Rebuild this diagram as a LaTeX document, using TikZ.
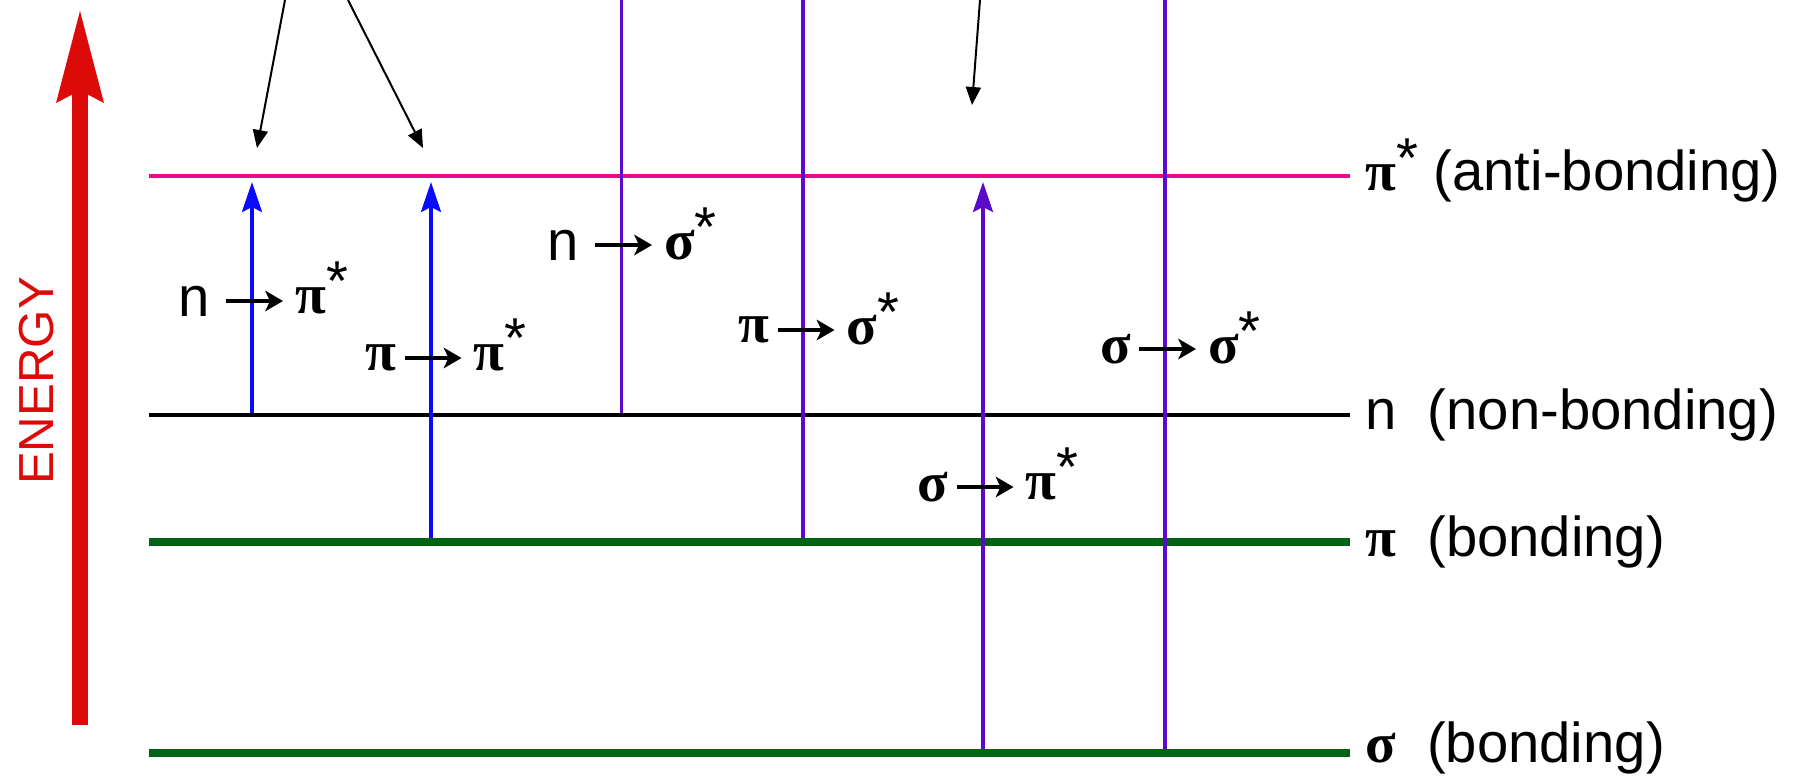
\documentclass[tikz,border=0pt]{standalone}
\usepackage{fontspec}
\setmainfont{Liberation Sans}
\newfontfamily\grkfont{Liberation Serif}
\usepackage{tikz}
\usetikzlibrary{positioning, arrows.meta}
\definecolor{EnergyRed}{HTML}{DD0A0A}
\definecolor{AntiPink}{HTML}{EC0A8C}
\definecolor{BondGreen}{HTML}{006414}
\definecolor{TransBlue}{HTML}{0A0AFF}
\definecolor{TransPurple}{HTML}{5A0AC8}

\begin{document}
\begin{tikzpicture}[
  >=stealth,
  energyarr/.style={-{Stealth[length=1.84cm, width=0.96cm, inset=0.25cm, line width=0pt]},
                    line width=0.32cm, color=EnergyRed},
  antiline/.style={line width=0.08cm, color=AntiPink},
  nonline/.style={line width=0.08cm, color=black},
  bondline/.style={line width=0.16cm, color=BondGreen},
  bluearr/.style={-{Stealth[length=0.6cm, width=0.4cm, inset=0.1cm]}, line width=0.07cm,
                  color=TransBlue, shorten >=0.12cm},
  purparr/.style={-{Stealth[length=0.6cm, width=0.4cm, inset=0.1cm]}, line width=0.07cm,
                  color=TransPurple, shorten >=0.12cm},
  purline/.style={line width=0.07cm, color=TransPurple},
  ptrarr/.style={-{Triangle[length=0.36cm, width=0.3cm]}, line width=0.04cm},
  lblarr/.style={-{Stealth[length=0.36cm, width=0.42cm, inset=0.1cm, line width=0pt]},
                 line width=0.08cm},
  lvllbl/.style={anchor=west, inner sep=0pt, inner xsep=0.3cm, font=\fontsize{32}{38}\selectfont},
  trtxt/.style={inner sep=0pt, font=\fontsize{32}{38}\selectfont},
]
  \useasboundingbox (0,0) rectangle (35.96,-15.52);

% ===== energy axis =====
  \coordinate (ebot) at (1.6,-14.5);
  \coordinate (etop) at (1.6,-0.22);
  \draw[energyarr] (ebot) -- (etop);
  \node[font=\fontsize{28}{34}\selectfont, text=EnergyRed, rotate=90]
    (energy) at (0.74,-7.62) {ENERGY};

% ===== levels =====
  \coordinate (top) at (0,0);
  \coordinate (pistarL) at (2.98,-3.52);
  \coordinate (nL) at (2.98,-8.30);
  \coordinate (piL) at (2.98,-10.84);
  \coordinate (sigmaL) at (2.98,-15.06);
  \node[lvllbl] (pistarlab) at (27.0,-3.52)
    {{\grkfont\bfseries π}\smash{\raisebox{0.23em}{*}} (anti-bonding)};
  \node[lvllbl] (nlab) at (27.0,-8.30) {n~~(non-bonding)};
  \node[lvllbl] (pilab) at (27.0,-10.84) {{\grkfont\bfseries π}~~(bonding)};
  \node[lvllbl] (sigmalab) at (27.0,-14.96) {{\grkfont\bfseries σ}~~(bonding)};
  \draw[antiline] (pistarL) -- (pistarlab.west);
  \draw[nonline] (nL) -- (nlab.west);
  \draw[bondline] (piL) -- (pilab.west);
  \draw[bondline] (sigmaL) -- (sigmaL -| sigmalab.west);

% ===== transitions =====
  \coordinate (t1) at (5.04,0);
  \coordinate (t2) at (8.62,0);
  \coordinate (t3) at (12.43,0);
  \coordinate (t4) at (16.06,0);
  \coordinate (t5) at (19.66,0);
  \coordinate (t6) at (23.30,0);
  \draw[bluearr, shorten <=0.04cm] (t1 |- nL) -- (t1 |- pistarL);
  \draw[bluearr, shorten <=0.08cm] (t2 |- piL) -- (t2 |- pistarL);
  \draw[purline, shorten <=0.04cm] (t3 |- nL) -- (t3 |- top);
  \draw[purline, shorten <=0.08cm] (t4 |- piL) -- (t4 |- top);
  \draw[purparr, shorten <=0.08cm] (t5 |- sigmaL) -- (t5 |- pistarL);
  \draw[purline, shorten <=0.08cm] (t6 |- sigmaL) -- (t6 |- top);

% ===== transition labels =====
  \coordinate (c1) at (5.09,-6.02);
  \coordinate (c2) at (8.66,-7.16);
  \coordinate (c3) at (12.47,-4.90);
  \coordinate (c4) at (16.12,-6.60);
  \coordinate (c5) at (19.70,-9.74);
  \coordinate (c6) at (23.35,-6.98);
  \node[trtxt, left=0.89cm of c1] (npiA) {n};
  \node[trtxt, right=0.81cm of c1] (npiB) {{\grkfont\bfseries π}\smash{\raisebox{0.23em}{*}}};
  \node[trtxt, left=0.73cm of c2] (pipiA) {{\grkfont\bfseries π}};
  \node[trtxt, right=0.81cm of c2] (pipiB) {{\grkfont\bfseries π}\smash{\raisebox{0.23em}{*}}};
  \node[trtxt, left=0.89cm of c3] (nsigmaA) {n};
  \node[trtxt, right=0.81cm of c3] (nsigmaB) {{\grkfont\bfseries σ}\smash{\raisebox{0.23em}{*}}};
  \node[trtxt, left=0.73cm of c4] (pisigmaA) {{\grkfont\bfseries π}};
  \node[trtxt, right=0.81cm of c4] (pisigmaB) {{\grkfont\bfseries σ}\smash{\raisebox{0.23em}{*}}};
  \node[trtxt, left=0.73cm of c5] (sigmapiA) {{\grkfont\bfseries σ}};
  \node[trtxt, right=0.81cm of c5] (sigmapiB) {{\grkfont\bfseries π}\smash{\raisebox{0.23em}{*}}};
  \node[trtxt, left=0.73cm of c6] (sigmasigmaA) {{\grkfont\bfseries σ}};
  \node[trtxt, right=0.81cm of c6] (sigmasigmaB) {{\grkfont\bfseries σ}\smash{\raisebox{0.23em}{*}}};
  \draw[lblarr, shorten <=0.32cm, shorten >=0.24cm] (npiA.east) -- (npiB.west);
  \draw[lblarr, shorten <=0.16cm, shorten >=0.24cm] (pipiA.east) -- (pipiB.west);
  \draw[lblarr, shorten <=0.32cm, shorten >=0.24cm] (nsigmaA.east) -- (nsigmaB.west);
  \draw[lblarr, shorten <=0.16cm, shorten >=0.24cm] (pisigmaA.east) -- (pisigmaB.west);
  \draw[lblarr, shorten <=0.16cm, shorten >=0.24cm] (sigmapiA.east) -- (sigmapiB.west);
  \draw[lblarr, shorten <=0.16cm, shorten >=0.24cm] (sigmasigmaA.east) -- (sigmasigmaB.west);

% ===== pointers from above =====
  \coordinate (src1) at (5.70,0);
  \coordinate (dst1) at (5.14,-2.96);
  \coordinate (src2) at (6.96,0);
  \coordinate (dst2) at (8.46,-2.96);
  \coordinate (src3) at (19.60,0);
  \coordinate (dst3) at (19.44,-2.10);
  \draw[ptrarr] (src1) -- (dst1);
  \draw[ptrarr] (src2) -- (dst2);
  \draw[ptrarr] (src3) -- (dst3);

\end{tikzpicture}
\end{document}
